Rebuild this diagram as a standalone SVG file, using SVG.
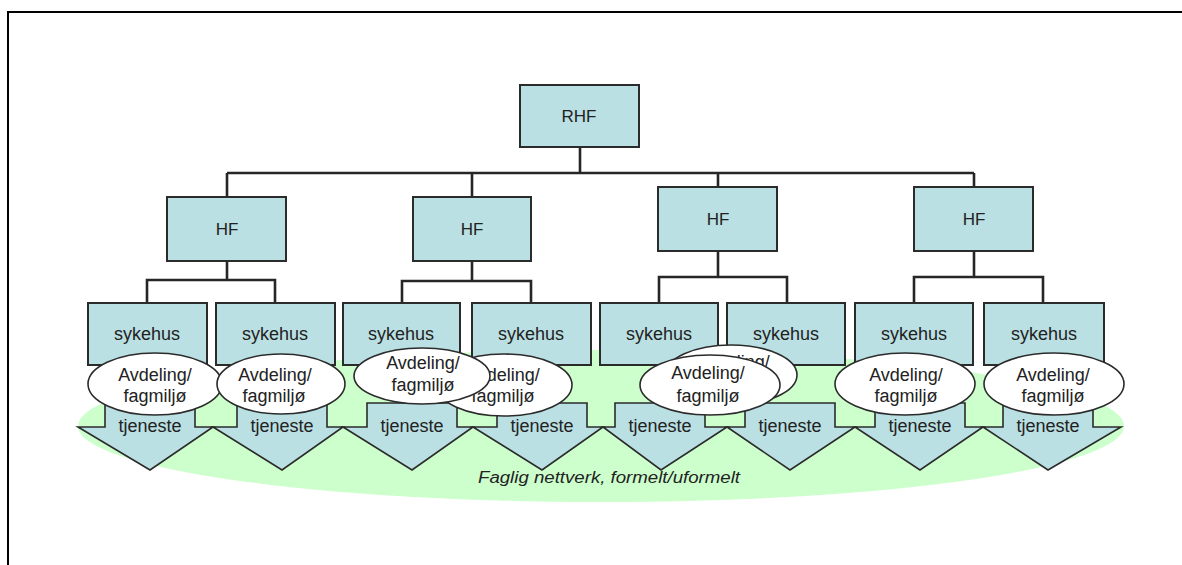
<svg xmlns="http://www.w3.org/2000/svg" width="1182" height="565" viewBox="0 0 1182 565">
  <style>
    .box { fill: #BAE0E3; stroke: #2b2b2b; stroke-width: 2; }
    .unit { fill: #FFFFFF; stroke: #2b2b2b; stroke-width: 1.6; }
    .svc { fill: #BAE0E3; stroke: #2b2b2b; stroke-width: 1.6; stroke-linejoin: miter; }
    .wire { fill: none; stroke: #262626; stroke-width: 2.6; }
    .lbl { font-family: "Liberation Sans", Arial, sans-serif; fill: #222222; text-anchor: middle; }
    .big { font-size: 17px; }
    .mid { font-size: 18px; }
    .net { font-family: "Liberation Sans", Arial, sans-serif; font-style: italic; font-size: 16px; fill: #222222; }
  </style>

  <!-- frame -->
  <path d="M8,565 V12 H1182" fill="none" stroke="#000" stroke-width="2"/>

  <!-- professional network background -->
  <ellipse id="network" cx="601" cy="426" rx="523" ry="76" fill="#CCFFCC"/>
  <text class="net" x="478" y="483" textLength="262" lengthAdjust="spacingAndGlyphs">Faglig nettverk, formelt/uformelt</text>

  <!-- connectors -->
  <g id="connectors">
    <path class="wire" d="M580,147 V173 M227,173 H974 M227,173 V197 M472,173 V197 M718,173 V187 M974,173 V187"/>
    <path class="wire" d="M227,261 V280 M147,303 V280 H275 V303"/>
    <path class="wire" d="M472,261 V281 M402,303 V281 H531 V303"/>
    <path class="wire" d="M718,251 V277 M659,303 V277 H787 V303"/>
    <path class="wire" d="M974,251 V277 M914,303 V277 H1043 V303"/>
  </g>

  <!-- top level -->
  <g id="rhf">
    <rect class="box" x="520" y="85" width="119" height="62"/>
    <text class="lbl big" x="579" y="122">RHF</text>
  </g>

  <!-- health trusts -->
  <g id="hf1">
    <rect class="box" x="167" y="197" width="119" height="64"/>
    <text class="lbl big" x="227" y="235">HF</text>
  </g>
  <g id="hf2">
    <rect class="box" x="413" y="197" width="118" height="64"/>
    <text class="lbl big" x="472" y="235">HF</text>
  </g>
  <g id="hf3">
    <rect class="box" x="658" y="187" width="119" height="64"/>
    <text class="lbl big" x="718" y="225">HF</text>
  </g>
  <g id="hf4">
    <rect class="box" x="914" y="187" width="119" height="64"/>
    <text class="lbl big" x="974" y="225">HF</text>
  </g>

  <!-- hospitals -->
  <g id="sykehus1"><rect class="box" x="88" y="303" width="119" height="62"/><text class="lbl mid" x="147" y="340">sykehus</text></g>
  <g id="sykehus2"><rect class="box" x="216" y="303" width="119" height="62"/><text class="lbl mid" x="275" y="340">sykehus</text></g>
  <g id="sykehus3"><rect class="box" x="343" y="303" width="117" height="62"/><text class="lbl mid" x="401" y="340">sykehus</text></g>
  <g id="sykehus4"><rect class="box" x="472" y="303" width="119" height="62"/><text class="lbl mid" x="531" y="340">sykehus</text></g>
  <g id="sykehus5"><rect class="box" x="600" y="303" width="118" height="62"/><text class="lbl mid" x="659" y="340">sykehus</text></g>
  <g id="sykehus6"><rect class="box" x="727" y="303" width="118" height="62"/><text class="lbl mid" x="786" y="340">sykehus</text></g>
  <g id="sykehus7"><rect class="box" x="855" y="303" width="118" height="62"/><text class="lbl mid" x="914" y="340">sykehus</text></g>
  <g id="sykehus8"><rect class="box" x="984" y="303" width="120" height="62"/><text class="lbl mid" x="1044" y="340">sykehus</text></g>

  <!-- services -->
  <g id="tjeneste1"><polygon class="svc" points="105,403 195,403 195,427 213,427 150,470 78,427 105,427"/><text class="lbl mid" x="150" y="432">tjeneste</text></g>
  <g id="tjeneste2"><polygon class="svc" points="237,403 327,403 327,427 343,427 282,470 213,427 237,427"/><text class="lbl mid" x="282" y="432">tjeneste</text></g>
  <g id="tjeneste3"><polygon class="svc" points="367,403 457,403 457,427 473,427 412,470 343,427 367,427"/><text class="lbl mid" x="412" y="432">tjeneste</text></g>
  <g id="tjeneste4"><polygon class="svc" points="497,403 587,403 587,427 603,427 542,470 473,427 497,427"/><text class="lbl mid" x="542" y="432">tjeneste</text></g>
  <g id="tjeneste5"><polygon class="svc" points="615,403 705,403 705,427 727,427 661,470 603,427 615,427"/><text class="lbl mid" x="660" y="432">tjeneste</text></g>
  <g id="tjeneste6"><polygon class="svc" points="745,403 835,403 835,427 855,427 790,470 727,427 745,427"/><text class="lbl mid" x="790" y="432">tjeneste</text></g>
  <g id="tjeneste7"><polygon class="svc" points="875,403 965,403 965,427 983,427 920,470 855,427 875,427"/><text class="lbl mid" x="920" y="432">tjeneste</text></g>
  <g id="tjeneste8"><polygon class="svc" points="1003,403 1093,403 1093,427 1121,427 1048,470 983,427 1003,427"/><text class="lbl mid" x="1048" y="432">tjeneste</text></g>

  <!-- departments / professional units -->
  <g id="avdeling1"><ellipse class="unit" cx="155" cy="384" rx="67" ry="31"/><text class="lbl mid" x="155" y="381">Avdeling/</text><text class="lbl mid" x="155" y="402">fagmiljø</text></g>
  <g id="avdeling2"><ellipse class="unit" cx="281" cy="384" rx="64" ry="30"/><text class="lbl mid" x="275" y="381">Avdeling/</text><text class="lbl mid" x="274" y="402">fagmiljø</text></g>
  <g id="avdeling4"><ellipse class="unit" cx="504" cy="385" rx="68" ry="31"/><text class="lbl mid" x="503" y="381">Avdeling/</text><text class="lbl mid" x="503" y="402">fagmiljø</text></g>
  <g id="avdeling3"><ellipse class="unit" cx="422" cy="376" rx="68" ry="28"/><text class="lbl mid" x="423" y="369">Avdeling/</text><text class="lbl mid" x="423" y="391">fagmiljø</text></g>
  <g id="avdeling6"><ellipse class="unit" cx="731" cy="375" rx="66" ry="30"/><text class="lbl mid" x="733" y="368">Avdeling/</text><text class="lbl mid" x="733" y="390">fagmiljø</text></g>
  <g id="avdeling5"><ellipse class="unit" cx="710" cy="385" rx="70" ry="30"/><text class="lbl mid" x="708" y="379">Avdeling/</text><text class="lbl mid" x="708" y="402">fagmiljø</text></g>
  <g id="avdeling7"><ellipse class="unit" cx="905" cy="384" rx="70" ry="31"/><text class="lbl mid" x="906" y="381">Avdeling/</text><text class="lbl mid" x="906" y="402">fagmiljø</text></g>
  <g id="avdeling8"><ellipse class="unit" cx="1054" cy="384" rx="70" ry="31"/><text class="lbl mid" x="1053" y="381">Avdeling/</text><text class="lbl mid" x="1053" y="402">fagmiljø</text></g>
</svg>
